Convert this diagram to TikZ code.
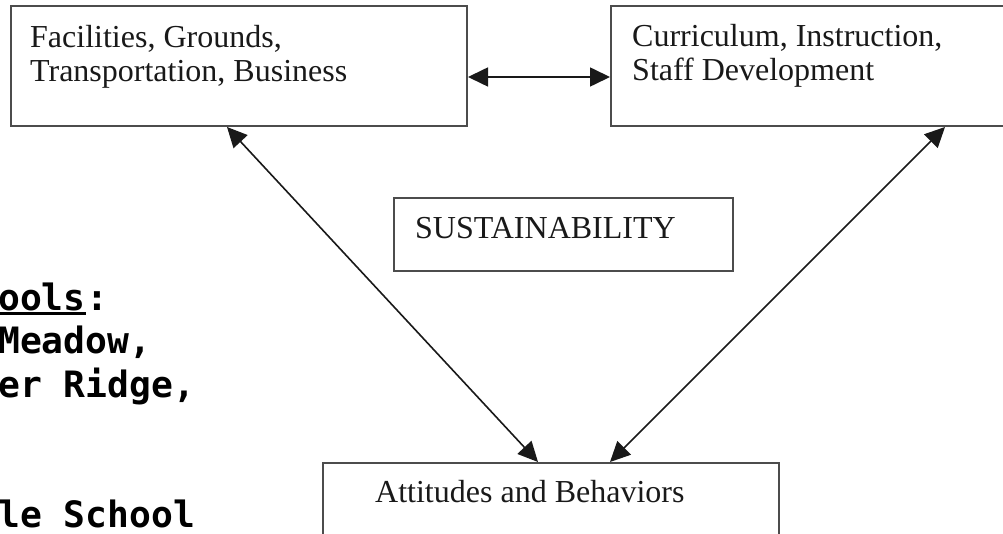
\documentclass[tikz,border=0pt]{standalone}
\usepackage{fontspec}
\setmainfont{Liberation Serif}
\newfontfamily\schoolfont{DejaVu Sans Mono}
\usetikzlibrary{arrows.meta,calc}
\tikzset{
  box/.style={draw=black!70, line width=2pt, rectangle, inner sep=0pt, anchor=north west},
  lbl/.style={inner sep=0pt, anchor=base west, text=black!90, font=\fontsize{32}{34}\selectfont},
  mono/.style={inner sep=0pt, anchor=base west, font=\schoolfont\bfseries\fontsize{36.3}{43}\selectfont},
  arr/.style={{Triangle[length=20pt,width=19pt]}-{Triangle[length=20pt,width=19pt]}, line width=1.6pt, black!90},
}
\begin{document}
\begin{tikzpicture}[x=1pt,y=-1pt]
\clip (0,0) rectangle (1003,534);
\fill[white] (0,0) rectangle (1003,534);
% boxes
\node[box, minimum width=456pt, minimum height=120pt] (fac) at (10,5) {};
\node[box, minimum width=430pt, minimum height=120pt] (cur) at (610,5) {};
\node[box, minimum width=339pt, minimum height=73pt] (sus) at (393,197) {};
\node[box, minimum width=456pt, minimum height=90pt] (att) at (322,462) {};
% box texts
\node[lbl] (fac1) at (30,48) {Facilities, Grounds,};
\node[lbl] (fac2) at (30,82) {Transportation, Business};
\node[lbl] (cur1) at (632,47) {Curriculum, Instruction,};
\node[lbl] (cur2) at (632,81) {Staff Development};
\node[lbl] (sustxt) at (415,239) {SUSTAINABILITY};
\node[lbl] (atttxt) at (375,502) {Attitudes and Behaviors};
% connectors
\draw[arr] (fac.east |- 0,77) -- (cur.west |- 0,77);
\draw[arr] (227,0 |- fac.south) -- (538,0 |- att.north);
\draw[arr] (945,0 |- cur.south) -- (610,0 |- att.north);
% left school list (cut at the page edge)
\node[mono] (s1) at (-2,310) {ools};
\node[mono] (s1c) at (s1.base east) {:};
\draw[line width=2.6pt] ($(s1.base west)+(0,3.5)$) -- ($(s1.base east)+(0,3.5)$);
\node[mono] (s2) at (-2,353) {Meadow,};
\node[mono] (s3) at (-2,397) {er Ridge,};
\node[mono] (s4) at (-2,527) {le School};
\end{tikzpicture}
\end{document}
